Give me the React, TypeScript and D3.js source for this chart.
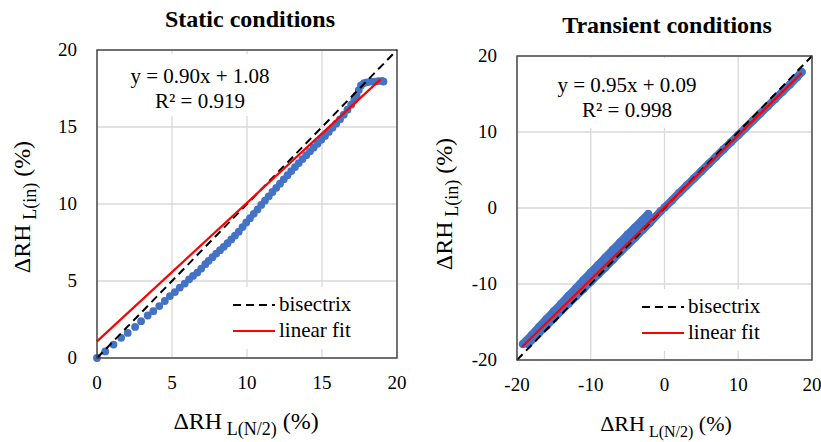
import * as d3 from "d3";

// static conditions: scattered samples
const staticX = [0, 0.55, 1.1, 1.61, 2.05, 2.54, 2.94, 3.38, 3.75, 4.15, 4.52, 4.86, 5.19, 5.52, 5.85, 6.14, 6.4, 6.69, 6.95, 7.22, 7.44,
  7.7, 7.95, 8.2, 8.45, 8.7, 8.95, 9.2, 9.45, 9.7, 9.95, 10.2, 10.45, 10.7, 10.95, 11.2, 11.45, 11.7, 11.95, 12.2, 12.45,
  12.7, 12.95, 13.2, 13.45, 13.7, 13.95, 14.2, 14.45, 14.7, 14.95, 15.2, 15.45, 15.7, 15.95, 16.2, 16.45, 16.7, 16.95,
  17.15, 17.3, 17.45, 17.6, 17.8, 18.0, 18.25, 18.5, 18.75, 19.0, 19.1];
const staticY = [0, 0.43, 0.87, 1.31, 1.63, 2.02, 2.39, 2.76, 3.04, 3.37, 3.7, 4.02, 4.28, 4.57, 4.83, 5.11, 5.33, 5.55, 5.81, 6.09, 6.31,
  6.55, 6.78, 7.0, 7.22, 7.45, 7.7, 7.95, 8.2, 8.5, 8.8, 9.08, 9.36, 9.65, 9.94, 10.22, 10.5, 10.78, 11.05, 11.32, 11.6,
  11.87, 12.14, 12.4, 12.66, 12.92, 13.17, 13.42, 13.67, 13.92, 14.17, 14.42, 14.68, 14.95, 15.22, 15.5, 15.8, 16.12, 16.45,
  16.75, 17.05, 17.4, 17.7, 17.85, 17.9, 17.95, 17.95, 17.98, 18.0, 17.95];

// transient conditions: three dense bands of samples
const bandAX = [-19.2, -18, -17, -16, -15, -14, -13, -12, -11, -10, -9, -8, -7, -6, -5, -4, -3, -2.2];
const bandAY = [-17.9, -16.7, -15.65, -14.6, -13.6, -12.6, -11.55, -10.55, -9.5, -8.5, -7.5, -6.5, -5.5, -4.5, -3.5, -2.55, -1.6, -0.8];
const bandBX = [-18.5, -17, -16, -15, -14, -13, -12, -11, -10, -9, -8, -7, -6, -5, -4, -3, -2, -0.5];
const bandBY = [-17.9, -16.4, -15.5, -14.5, -13.5, -12.55, -11.6, -10.65, -9.7, -8.75, -7.8, -6.8, -5.8, -4.85, -3.9, -2.9, -1.95, -0.4];
const bandCX = [0, 1, 2, 3, 4, 5, 6, 7, 8, 9, 10, 11, 12, 13, 14, 15, 16, 17, 18, 18.6];
const bandCY = [0.05, 1.0, 2.0, 2.95, 3.9, 4.85, 5.8, 6.75, 7.7, 8.65, 9.6, 10.55, 11.5, 12.45, 13.4, 14.35, 15.3, 16.25, 17.25, 17.9];

const leftTicks = [0, 5, 10, 15, 20];
const rightTicks = [-20, -10, 0, 10, 20];

// trendline coefficients and extents: [slope, intercept, xStart, xEnd]
const staticFit = [0.9, 1.08, 0, 18.9];
const transientFit = [0.95, 0.09, -19.3, 18.6];

const BLUE = "#4472C4";
const FONT = "'Liberation Serif', 'Times New Roman', serif";
const DASH = "8,5";

function Panel({ x, y, ticks, title, titleX, titleY, eq, r2, eqX, eqY, eqBox, legend, xLab, yLab, children, fit, xSize }) {
  const x0 = x.range()[0], x1 = x.range()[1];
  const y0 = y.range()[0], y1 = y.range()[1];
  const d = x.domain();
  const line = d3.line();
  return (
    <g style={{ fontFamily: FONT }}>
      <text x={titleX} y={titleY} textAnchor="middle" fontWeight="bold" fontSize={24}>{title}</text>
      {ticks.map((t) => (
        <g key={"g" + t}>
          <line x1={x(t)} x2={x(t)} y1={y0} y2={y1} stroke="#d9d9d9" strokeWidth={1.3} />
          <line x1={x0} x2={x1} y1={y(t)} y2={y(t)} stroke="#d9d9d9" strokeWidth={1.3} />
          <text x={x(t)} y={y0 + 31} textAnchor="middle" fontSize={19}>{t}</text>
          <text x={x0 - 20} y={y(t) + 6} textAnchor="end" fontSize={19}>{t}</text>
        </g>
      ))}
      <rect x={eqBox[0]} y={eqBox[1]} width={eqBox[2]} height={eqBox[3]} fill="#fff" />
      <rect x={legend[0] - 6} y={legend[1] - 18} width={134} height={62} fill="#fff" />
      {children}
      <path d={line([[x(d[0]), y(d[0])], [x(d[1]), y(d[1])]])} stroke="#000" strokeWidth={2} strokeDasharray={DASH} fill="none" />
      <path d={line([[x(fit[2]), y(fit[0] * fit[2] + fit[1])], [x(fit[3]), y(fit[0] * fit[3] + fit[1])]])} stroke="#ff0000" strokeWidth={2.2} fill="none" />
      <rect x={x0} y={y1} width={x1 - x0} height={y0 - y1} fill="none" stroke="#404040" strokeWidth={1.4} />
      <text x={eqX} y={eqY} textAnchor="middle" fontSize={21}>{eq}</text>
      <text x={eqX} y={eqY + 25} textAnchor="middle" fontSize={21}>{r2}</text>
      <line x1={legend[0]} x2={legend[0] + 42} y1={legend[1]} y2={legend[1]} stroke="#000" strokeWidth={2} strokeDasharray={DASH} />
      <text x={legend[0] + 46} y={legend[1] + 6} fontSize={21}>bisectrix</text>
      <line x1={legend[0]} x2={legend[0] + 42} y1={legend[1] + 26} y2={legend[1] + 26} stroke="#ff0000" strokeWidth={2.2} />
      <text x={legend[0] + 46} y={legend[1] + 32} fontSize={21}>linear fit</text>
      <text x={xLab[0]} y={xLab[1]} textAnchor="middle" fontSize={xSize}>
        ΔRH<tspan fontSize={xSize - 6} dy={6}> L(N/2)</tspan><tspan dy={-6}>{xSize > 23 ? "  (%)" : " (%)"}</tspan>
      </text>
      <text transform={`translate(${yLab[0]},${yLab[1]}) rotate(-90)`} textAnchor="middle" fontSize={24}>
        ΔRH<tspan fontSize={18} dy={6}> L(in)</tspan><tspan dy={-6}> (%)</tspan>
      </text>
    </g>
  );
}

export default function App() {
  const lx = d3.scaleLinear().domain([0, 20]).range([97, 397]);
  const ly = d3.scaleLinear().domain([0, 20]).range([358, 50]);
  const rx = d3.scaleLinear().domain([-20, 20]).range([517, 812]);
  const ry = d3.scaleLinear().domain([-20, 20]).range([360, 56]);
  const line = d3.line().curve(d3.curveLinear);
  const bands = [[bandAX, bandAY], [bandBX, bandBY], [bandCX, bandCY]];
  return (
    <svg width={821} height={442} style={{ position: "absolute", left: 0, top: 0, background: "#fff", fontFamily: FONT }}>
      <Panel x={lx} y={ly} ticks={leftTicks} title="Static conditions" titleX={250} titleY={27}
        eq="y = 0.90x + 1.08" r2="R² = 0.919" eqX={200} eqY={83} eqBox={[122, 54, 156, 62]}
        legend={[233, 305]} xLab={[246, 429]} yLab={[30, 207]} fit={staticFit} xSize={24}>
        {staticX.map((v, i) => (
          <circle key={i} cx={lx(v)} cy={ly(staticY[i])} r={3.9} fill={BLUE} />
        ))}
      </Panel>
      <Panel x={rx} y={ry} ticks={rightTicks} title="Transient conditions" titleX={667} titleY={33}
        eq="y = 0.95x + 0.09" r2="R² = 0.998" eqX={627} eqY={92} eqBox={[548, 58, 158, 70]}
        legend={[642, 307]} xLab={[666, 431]} yLab={[452, 204]} fit={transientFit} xSize={22}>
        {bands.map(([bx, by], k) => (
          <g key={k}>
            <path d={line(bx.map((v, i) => [rx(v), ry(by[i])]))} stroke={BLUE} strokeWidth={8} strokeLinecap="round" strokeLinejoin="round" fill="none" />
            {bx.map((v, i) => (
              <circle key={i} cx={rx(v)} cy={ry(by[i])} r={4} fill={BLUE} />
            ))}
          </g>
        ))}
      </Panel>
    </svg>
  );
}
